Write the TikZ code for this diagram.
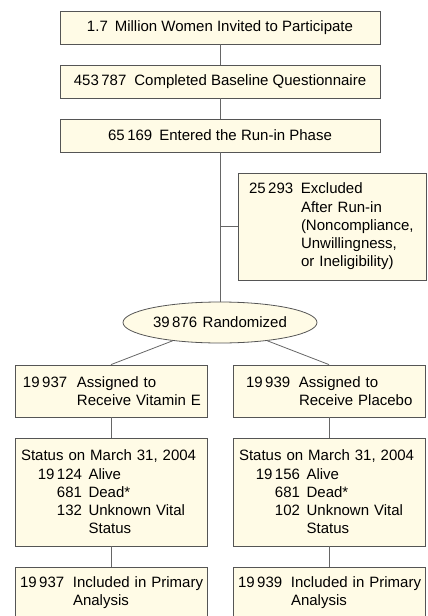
\documentclass[tikz,border=0pt]{standalone}
\usepackage{fontspec}
\setmainfont{Liberation Sans}
\usepackage{tikz}
\usetikzlibrary{positioning,shapes.geometric}
\setlength{\parindent}{0pt}
\definecolor{boxfill}{HTML}{FFFBE6}
\definecolor{boxline}{HTML}{555555}
\definecolor{linkline}{HTML}{666666}

\begin{document}
\begin{tikzpicture}[x=1pt,y=-1pt,
    box/.style={draw=boxline, fill=boxfill, line width=0.8pt, inner sep=0pt,
        font=\fontsize{15}{18.2}\selectfont},
    wide/.style={box, minimum width=320pt, minimum height=33pt},
    side/.style={box, text width=#1, align=left},
    link/.style={draw=linkline, line width=0.8pt}]
        \useasboundingbox (0,0) rectangle (428,616);
        \clip (0,0) rectangle (428,616);

        \node[wide] (invited) at (220,27.5) {1.7\hspace{7pt}Million Women Invited to Participate};
        \node[wide] (baseline) at (220,81.5) {453\,787\hspace{8pt}Completed Baseline Questionnaire};
        \node[wide] (runin) at (220,135.5) {65\,169\hspace{7pt}Entered the Run-in Phase};

        \node[side=166pt, inner xsep=11pt, minimum height=107pt] (excluded) at (332,226.5)
            {\mbox{\makebox[52pt][l]{25\,293}Excluded}\\
             \mbox{\makebox[52pt]{}After Run-in}\\
             \mbox{\makebox[52pt]{}(Noncompliance,}\\
             \mbox{\makebox[52pt]{}Unwillingness,}\\
             \mbox{\makebox[52pt]{}or Ineligibility)}};

        \node[box, ellipse, minimum width=194pt, minimum height=41pt] (random) at (220,322.5)
            {39\,876\hspace{5.5pt}Randomized};

        % vitamin E arm
        \node[side=176pt, inner xsep=8pt, minimum height=52pt] (vitE) at (111,391)
            {\mbox{\makebox[54pt][l]{19\,937}Assigned to}\\
             \mbox{\makebox[54pt]{}Receive Vitamin E}};
        \node[side=180pt, inner xsep=6pt, minimum height=108pt] (statE) at (111,492)
            {\mbox{Status on March 31, 2004}\\
             \mbox{\makebox[61pt][r]{19\,124}\hspace{6.6pt}Alive}\\
             \mbox{\makebox[61pt][r]{681}\hspace{6.6pt}Dead*}\\
             \mbox{\makebox[61pt][r]{132}\hspace{6.6pt}Unknown Vital}\\
             \mbox{\makebox[61pt]{}\hspace{6.6pt}Status}};
        \node[side=182pt, inner xsep=5pt, minimum height=52pt] (inclE) at (111,593)
            {\mbox{\makebox[53pt][l]{19\,937}Included in Primary}\\
             \mbox{\makebox[53pt]{}Analysis}};

        % placebo arm
        \node[side=166pt, inner xsep=13pt, minimum height=52pt] (plac) at (329,391)
            {\mbox{\makebox[53pt][l]{19\,939}Assigned to}\\
             \mbox{\makebox[53pt]{}Receive Placebo}};
        \node[side=180pt, inner xsep=6pt, minimum height=108pt] (statP) at (329,492)
            {\mbox{Status on March 31, 2004}\\
             \mbox{\makebox[61pt][r]{19\,156}\hspace{6.6pt}Alive}\\
             \mbox{\makebox[61pt][r]{681}\hspace{6.6pt}Dead*}\\
             \mbox{\makebox[61pt][r]{102}\hspace{6.6pt}Unknown Vital}\\
             \mbox{\makebox[61pt]{}\hspace{6.6pt}Status}};
        \node[side=182pt, inner xsep=5pt, minimum height=52pt] (inclP) at (329,593)
            {\mbox{\makebox[53pt][l]{19\,939}Included in Primary}\\
             \mbox{\makebox[53pt]{}Analysis}};

        \draw[link] (invited) -- (baseline);
        \draw[link] (baseline) -- (runin);
        \draw[link] (runin) -- (random);
        \draw[link] (excluded.west) -- (runin |- excluded.west);
        \draw[link] (random) -- (vitE.north);
        \draw[link] (random) -- (plac.north);
        \draw[link] (vitE) -- (statE);
        \draw[link] (statE) -- (inclE);
        \draw[link] (plac) -- (statP);
        \draw[link] (statP) -- (inclP);
    \end{tikzpicture}
\end{document}
